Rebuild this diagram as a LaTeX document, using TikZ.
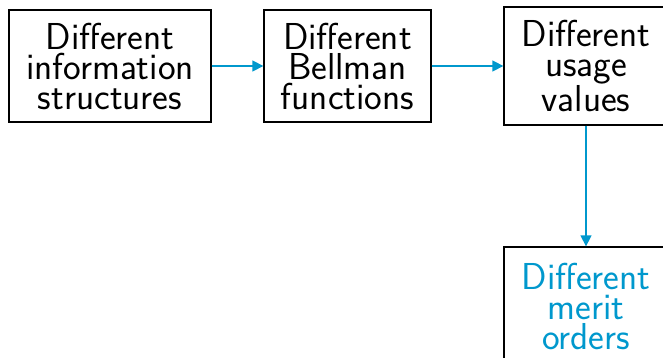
\documentclass[tikz,border=0pt]{standalone}
\usetikzlibrary{arrows.meta}
\definecolor{flowblue}{RGB}{0,152,205}
\begin{document}
\begin{tikzpicture}[x=1pt,y=-1pt,
  every node/.style={draw, line width=1.3pt, inner sep=0pt, align=center,
    font=\sffamily\fontsize{37.5}{30}\selectfont},
  a/.style={draw=flowblue, line width=1.4pt, -{Triangle[length=11pt,width=11pt]}, fill=flowblue}
]
\useasboundingbox (0,0) rectangle (663,358);

% --- top row ---
\node[minimum width=202pt, minimum height=112pt] (info) at (110,66) {Different\\information\\structures};
\node[minimum width=167pt, minimum height=112pt] (bell) at (347.5,66) {Different\\Bellman\\functions};
\node[minimum width=164pt, minimum height=118pt] (usage) at (586,66) {Different\\usage\\values};

% --- below ---
\node[minimum width=164pt, minimum height=118pt, text=flowblue] (merit) at (586,306) {Different\\merit\\orders};

% --- arrows ---
\draw[a] (info)--(bell);
\draw[a] (bell)--(usage);
\draw[a] (usage)--(merit);

\end{tikzpicture}
\end{document}
